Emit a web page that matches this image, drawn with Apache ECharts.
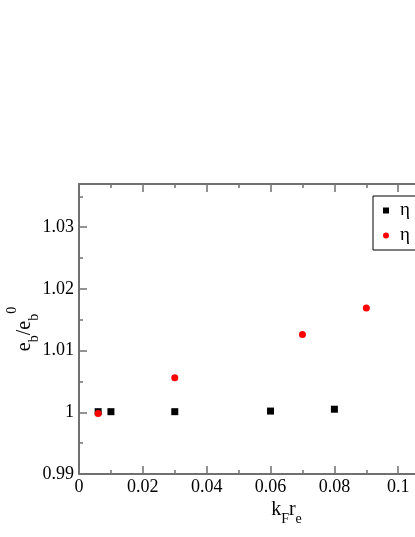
<!DOCTYPE html>
<html><head><meta charset="utf-8">
<script src="https://cdn.jsdelivr.net/npm/echarts@6/dist/echarts.min.js"></script>
<style>html,body{margin:0;padding:0;background:#fff}#c{width:415px;height:537px}</style>
</head><body><div id="c"></div>
<script>
// Data
const seriesNames = ['η (a)', 'η (b)'];
const blackX = [0.006, 0.01, 0.03, 0.06, 0.08];
const blackY = [1.0001, 1.0001, 1.0001, 1.0002, 1.0005];
const redX = [0.006, 0.03, 0.07, 0.09];
const redY = [0.9998, 1.0056, 1.0126, 1.0169];

const axisColor = '#707070';
const fmt = v => String(parseFloat(Number(v).toFixed(4)));
const serif = '"Liberation Serif", "DejaVu Serif", serif';

const chart = echarts.init(document.getElementById('c'));
const xCommon = {
  type: 'value', min: 0, max: 0.13, interval: 0.02,
  axisLine: { show: true, onZero: false, lineStyle: { color: axisColor, width: 2 } },
  axisTick: { show: true, inside: true, length: 8, lineStyle: { color: axisColor, width: 1.5 } },
  minorTick: { show: true, splitNumber: 2, length: 4, lineStyle: { color: axisColor, width: 1.5 } },
  splitLine: { show: false }
};
const yCommon = {
  type: 'value', min: 0.99, max: 1.037, interval: 0.01,
  axisLine: { show: true, onZero: false, lineStyle: { color: axisColor, width: 2 } },
  axisTick: { show: true, inside: true, length: 8, lineStyle: { color: axisColor, width: 1.5 } },
  minorTick: { show: true, splitNumber: 2, length: 4, lineStyle: { color: axisColor, width: 1.5 } },
  splitLine: { show: false }
};
chart.setOption({
  animation: false,
  backgroundColor: '#fff',
  grid: { left: 79, top: 184, bottom: 63, width: 415, containLabel: false, outerBoundsMode: 'none' },
  legend: {
    orient: 'vertical', left: 373, top: 196,
    padding: [5, 40, 5, 10], itemGap: 6, itemWidth: 6, itemHeight: 6,
    borderColor: '#000', borderWidth: 1, backgroundColor: '#fff',
    formatter: () => 'η',
    textStyle: { fontFamily: serif, fontSize: 19, color: '#000', lineHeight: 16, padding: [0, 0, 0, 6] },
    data: [{ name: seriesNames[0], icon: 'rect' }, { name: seriesNames[1], icon: 'circle' }]
  },
  xAxis: [
    Object.assign({}, xCommon, {
      position: 'bottom',
      name: '{m|k}{s|F}{m|r}{s|e}', nameLocation: 'middle', nameGap: 24, nameMoveOverlap: false,
      nameTextStyle: { rich: {
        m: { fontFamily: serif, fontSize: 20, color: '#000', verticalAlign: 'bottom', lineHeight: 22 },
        s: { fontFamily: serif, fontSize: 14, color: '#000', verticalAlign: 'bottom', lineHeight: 14, padding: [0, 0, -6, 0] }
      } },
      axisLabel: { formatter: fmt, fontFamily: serif, fontSize: 18, color: '#000', margin: 4 }
    }),
    Object.assign({}, xCommon, { position: 'top', axisLabel: { show: false } })
  ],
  yAxis: [
    Object.assign({}, yCommon, {
      position: 'left',
      name: '{m|e}{s|b}{m|/e}{s|b}{p|0}', nameLocation: 'middle', nameGap: 44, nameRotate: 90, nameMoveOverlap: false,
      nameTextStyle: { rich: {
        m: { fontFamily: serif, fontSize: 20, color: '#000', verticalAlign: 'bottom', lineHeight: 22 },
        s: { fontFamily: serif, fontSize: 14, color: '#000', verticalAlign: 'bottom', lineHeight: 14, padding: [0, 0, -6, 0] },
        p: { fontFamily: serif, fontSize: 14, color: '#000', verticalAlign: 'top', lineHeight: 14, padding: [-8, 0, 0, 0] }
      } },
      axisLabel: { formatter: fmt, fontFamily: serif, fontSize: 18, color: '#000', margin: 5, showMaxLabel: false }
    }),
    Object.assign({}, yCommon, { position: 'right', axisLabel: { show: false } })
  ],
  series: [
    { name: seriesNames[0], type: 'scatter', symbol: 'rect', symbolSize: 7,
      itemStyle: { color: '#000', opacity: 1 }, data: blackX.map((x, i) => [x, blackY[i]]) },
    { name: seriesNames[1], type: 'scatter', symbol: 'circle', symbolSize: 7,
      itemStyle: { color: '#ff0000', opacity: 1 }, data: redX.map((x, i) => [x, redY[i]]) }
  ]
});
</script></body></html>
